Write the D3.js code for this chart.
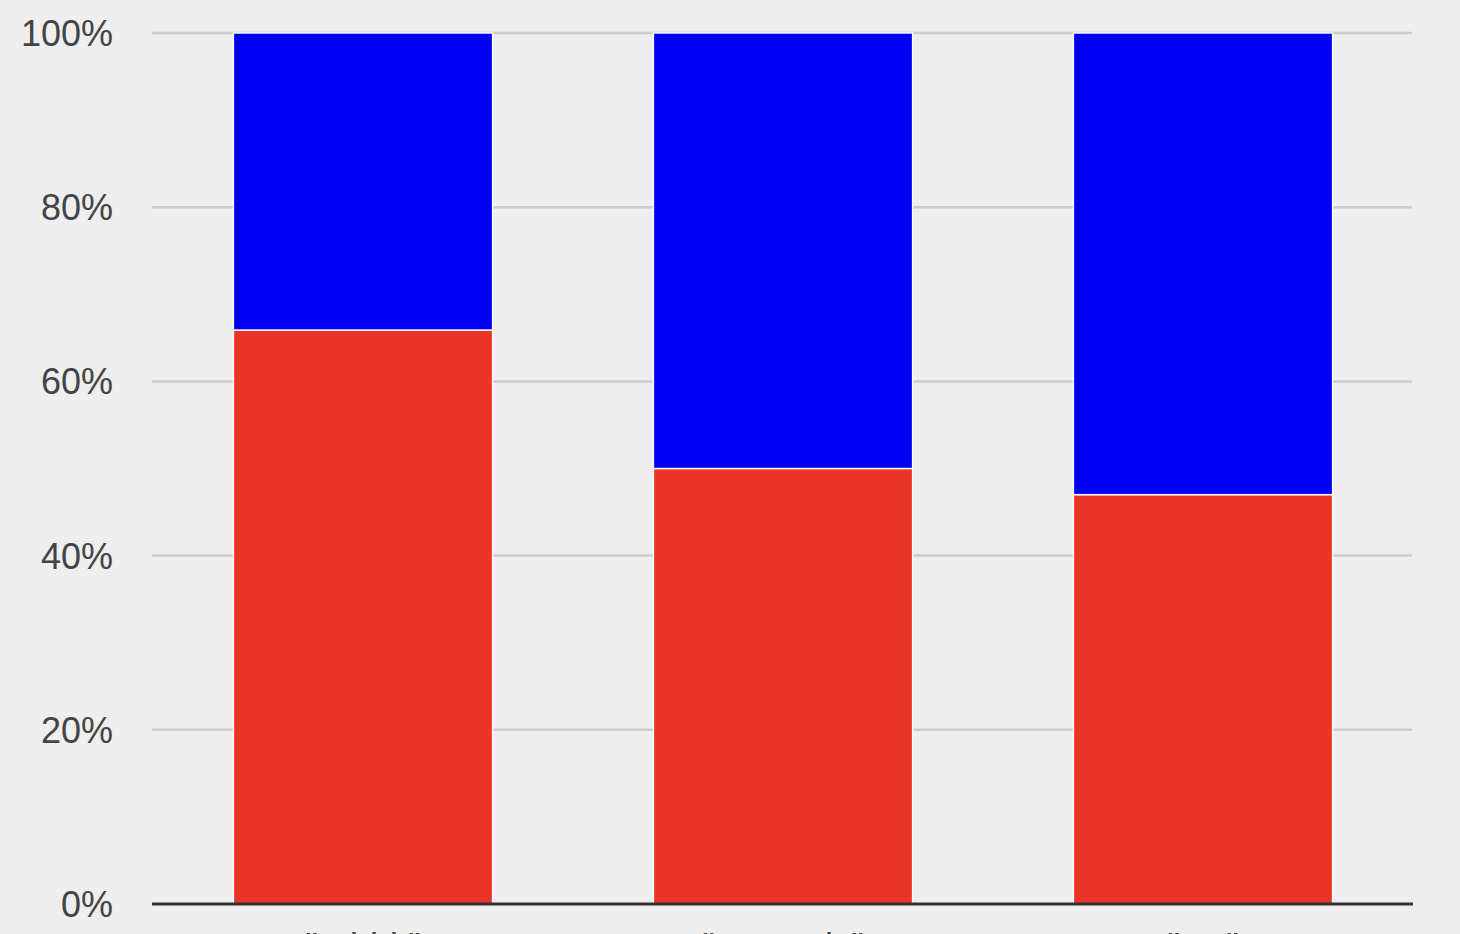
<!DOCTYPE html>
<html>
<head>
<meta charset="utf-8">
<script src="https://cdn.jsdelivr.net/npm/d3@7"></script>
<style>
  html, body { margin: 0; padding: 0; background: #eeeeee; overflow: hidden; }
  text { font-family: "Liberation Sans", Arial, sans-serif; }
</style>
</head>
<body>
<div id="chart-area"></div>
<script>
// chart data
const categories = ['"rabbit"', '"anomaly"', '"we"'];
const redValues = [65.9, 50.0, 47.0];
const blueValues = [34.1, 50.0, 53.0];
const yTicks = [0, 20, 40, 60, 80, 100];

const W = 1460, H = 934;
const margin = { left: 152, right: 48, top: 33, bottom: 30 };

const svg = d3.select('#chart-area')
    .append('svg')
    .attr('width', W)
    .attr('height', H);

svg.append('rect')
    .attr('width', W)
    .attr('height', H)
    .attr('fill', '#eeeeee');

const x = d3.scaleBand()
    .domain(categories)
    .range([margin.left + 1, W - margin.right + 1])
    .paddingInner(0.383)
    .paddingOuter(0.1915);

const y = d3.scaleLinear()
    .domain([0, 100])
    .range([904, margin.top]);

// gridlines
svg.append('g')
    .selectAll('line')
    .data(yTicks.filter(d => d > 0))
    .enter()
    .append('line')
    .attr('x1', margin.left)
    .attr('x2', W - margin.right)
    .attr('y1', d => y(d))
    .attr('y2', d => y(d))
    .attr('stroke', '#cccccc')
    .attr('stroke-width', 2.5);

// y tick labels
svg.append('g')
    .selectAll('text')
    .data(yTicks)
    .enter()
    .append('text')
    .attr('x', 113)
    .attr('y', d => y(d) + 13)
    .attr('text-anchor', 'end')
    .attr('font-size', 36)
    .attr('fill', '#444444')
    .text(d => d + '%');

// stacked bars
const rows = categories.map((c, i) => ({ name: c, red: redValues[i], blue: blueValues[i] }));
const series = d3.stack().keys(['red', 'blue'])(rows);
const colors = { red: '#ea3526', blue: '#0000f3' };

svg.append('g')
    .selectAll('g')
    .data(series)
    .enter()
    .append('g')
    .attr('fill', d => colors[d.key])
    .selectAll('rect')
    .data(d => d)
    .enter()
    .append('rect')
    .attr('x', d => x(d.data.name))
    .attr('width', x.bandwidth())
    .attr('y', d => y(d[1]))
    .attr('height', d => y(d[0]) - y(d[1]))
    .attr('stroke', '#ffffff')
    .attr('stroke-width', 1.4);

// baseline
svg.append('line')
    .attr('x1', margin.left)
    .attr('x2', W - margin.right + 1)
    .attr('y1', y(0))
    .attr('y2', y(0))
    .attr('stroke', '#333333')
    .attr('stroke-width', 3);

// category labels (mostly below the visible area)
svg.append('g')
    .selectAll('text')
    .data(categories)
    .enter()
    .append('text')
    .attr('x', d => x(d) + x.bandwidth() / 2)
    .attr('y', 959)
    .attr('text-anchor', 'middle')
    .attr('font-size', 36)
    .attr('fill', '#444444')
    .text(d => d);
</script>
</body>
</html>
